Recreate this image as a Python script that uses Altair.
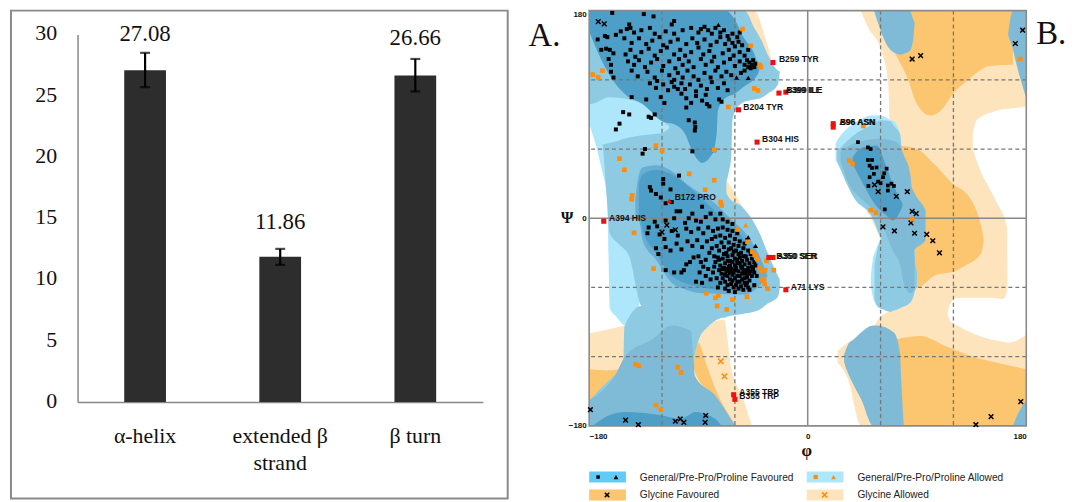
import altair as alt
import pandas as pd

# ---------------- left panel values ----------------
categories = ["α-helix", "extended β strand", "β turn"]
bar_values = [27.08, 11.86, 26.66]
err_low = [25.7, 11.2, 25.35]
err_high = [28.5, 12.5, 28.0]
label_pos = [30.0, 14.7, 29.7]

# ---------------- Ramachandran regions: (phi, psi low, psi high) ----------------
LO_TOP_BAND = [(43.6,180,180),(50,165,180),(60,147,180),(66,120,180),(68,50,180),(70,-180,180),(115,-180,180),(180,-180,180)]
LO_SLIVER_A = [(-60,150,180),(-44,140,180),(-36,130,160),(-30,130,139)]
LO_SLIVER_B = [(-72,10,40),(-65,0,30),(-55,-10,12),(-45,-20,-8),(-38,-30,-15)]
LO_SLIVER_C = [(-95,-140,-90),(-76,-160,-89),(-70,-170,-88),(-69,-180,-88),(-63,-180,-130),(-54,-180,-154),(-46,-180,-180)]
LO_CORNER = [(-180,-135,-100),(-150,-135,-93)]
LO_LOWER = [(24.5,-125,-115),(33,-139,-108),(44,-180,-100),(55,-180,-93),(60,-180,-85),(71,-180,-80)]
LO_UPPER = [(24,50,60),(36,25,50),(52,0,30),(60,-19,10),(71,-60,50)]
WHITE_U = [(136,60,73),(139,50,85),(155,15,93),(164,-7,95),(165,-108,95),(180,-101,97)]
WHITE_L = [(115,-82,-82),(117,-89,-75),(123,-93,-69),(150,-105,-69),(161,-107,-70),(165,-108,-60)]
DO_TOP = [(60,170,180),(71,145,180),(82,122,180),(90,99,180),(101,89,180),(112,96,180),(119,107,180),(131,119,180),(150,132,180),(169,133,180)]
DO_MID = [(75,-60,63),(90,-60,60),(104,-50,47),(123,-45,27),(128,-42,24),(143,-30,-7),(145,-19,-19)]
DO_BOTTOM = [(60,-180,-110),(73,-180,-105),(93,-180,-102),(114,-180,-111),(136,-180,-120),(155,-180,-125),(180,-180,-131)]
DO_LEFT = [(-94,-130,-125),(-90,-140,-108),(-84,-148,-125),(-76,-160,-148),(-60,-180,-178)]
DO_CORNER = [(-180,-160,-131),(-165,-150,-132),(-155,-137,-131)]

CY_BASE = [(-180,82,180),(-170,44,180),(-165,15,180),(-163,-78,180),(-158,-85,180),(-150,-93,180),(-140,-80,180),(-137,-60,180)]
MID_A = [(-180,100,180),(-172,75,180),(-169,64,180),(-166,25,180),(-163,-13,180),(-155,-23,180),(-147,-33,180),(-137,-76,180),(-135,-77,180)]
MID_B = [(-180,-180,-158),(-170,-180,-147),(-158,-180,-135),(-152,-180,-128),(-151,-180,-94),(-137,-180,-76),(-135,-180,-77)]
MID_C = [(-137,-180,180),(-93.5,-180,180)]
MID_D = [(-94.5,-180,-125),(-93,-180,-137),(-76,-180,-154),(-60,-180,-180)]
MID_E = [(-94.5,-125,180),(-88.5,-102,180),(-84,-96,180),(-68,-86,180),(-67,-86,180)]
MID_F = [(-69,27,180),(-65,40,180),(-63,53,180),(-62,85,180),(-61,90,180),(-54,100,180),(-52,101,180),(-44,103,165),(-38,104.5,154),(-33,108,142),(-24.5,116,128),(-23,127,127)]
MID_G = [(-69,-86,27),(-65,-85,18),(-54,-83,10),(-41,-80,-10),(-33,-74,-30),(-24.5,-68,-50),(-23,-60,-53)]
NOTCH = [(-180,84,99),(-175,70,100),(-169,64,103),(-164,65,105),(-147,70,103),(-136,72,99),(-120,74,84),(-114,78,80)]
MIDDARK = [(-180,-180,-158),(-158,-180,-135),(-150,-180,-119),(-128,-180,-105),(-112,-180,-93),(-96,-180,-98),(-94,-180,-125),(-93,-180,-137),(-76,-180,-154),(-60,-180,-180)]
FAV_TOP = [(-180,162,180),(-172,142,180),(-162,122,180),(-150,107,180),(-136,99,180),(-120,84,180),(-109,81,180),(-101,73,180),(-95,58,180),(-87,48,180),(-79,55,180),(-75,73,180),(-74,93,180),(-68,104,180),(-60,108,172),(-54,113,159),(-41,125,133),(-40,128,128)]
FAV_BOTTOM = [(-177,-180,-180),(-164,-180,-171),(-150,-180,-168),(-120,-180,-171),(-105,-180,-174),(-92,-180,-168),(-76,-180,-174),(-71,-180,-180)]
FAV_LOW_OUT = [(-142,0,16),(-139,-2,38),(-136,-19,44),(-125,-36,46),(-112,-56,41),(-100,-62,30),(-87,-65,21),(-84,-65,19),(-60,-66,-4),(-52,-66,-12),(-41,-60,-30),(-33,-50,-50)]
FAV_LOW_IN = [(-139,3,30),(-136,-10,38),(-125,-30,42),(-112,-50,38),(-87,-60,17),(-70,-62,0),(-60,-62,-10),(-52,-60,-20),(-48,-50,-35)]

BL_PATCH = [(54.5,180,180),(68,146,180),(76,142,180),(84,145,180),(87,156,172),(88,170,170)]
BL_TOPRIGHT = [(165,159,159),(169,146,180),(172,133,180),(180,104,180)]
BL_BOTRIGHT = [(169,-180,-180),(172,-180,-172),(180,-180,-158)]
BL_LOWER = [(30,-125,-118),(33,-134,-110),(38,-145,-105),(44,-157,-99),(54,-180,-93),(57,-180,-93),(71,-180,-99),(76,-180,-117),(77,-180,-140),(79,-180,-178)]
BLOB_CY_1 = [(23,50,65),(28,41,73),(38,18,82),(53,1,89),(60,-16,89),(68,-25,85)]
BLOB_CY_2 = [(52,-59,-50),(53,-65,-40),(57,-76,-25),(60,-78,-16),(68,-81,85),(71,-80,84),(76,-78,73),(78,-77,53),(84.5,-73,27),(87,-68,20),(88.6,-62,-39),(90,-60,-45)]
BLOB_CY_3 = [(85,-30,24),(88.6,-26,16),(90,-25,14),(95,-22,6),(97,-19,-5)]
BLOB_MID = [(24,50,58),(38,18,72),(53,1,81),(60,-16,85),(68,-25,84)]
BLOB_MID_LOW = [(55,-70,-40),(58,-77,-25),(62,-79,-12),(68,-81,84),(71,-80,80),(76,-78,73),(78,-77,53),(84.5,-73,27),(87,-68,20),(88.6,-62,-39),(90,-60,-45)]
BLOB_IN_1 = [(27,50,58),(35,27,63),(41,20,66),(60,-2,69),(71,-30,67),(76,-40,63),(79,-56,55),(84.5,-65,38),(88,-62,-37)]
BLOB_IN_2 = [(85,-30,28),(90,-25,18),(95,-21,11),(97,-19,7)]
BLOB_FAV = [(37,47,53),(44,33,61),(57,10,63),(64,3,47),(70,-2,30),(78,10,13)]

C_LO, C_DO = "#fde4bd", "#fcc56f"
C_CY, C_MID, C_MD = "#aee6fb", "#8ecbe3", "#7fbbd6"
C_FAV, C_FAV2 = "#4e9fc8", "#66aed3"
C_WHITE = "#ffffff"

region_layers = [
    (LO_TOP_BAND, C_LO), (LO_SLIVER_A, C_LO), (LO_SLIVER_B, C_LO), (LO_SLIVER_C, C_LO),
    (LO_CORNER, C_LO), (LO_LOWER, C_LO), (LO_UPPER, C_LO),
    (WHITE_U, C_WHITE), (WHITE_L, C_WHITE),
    (DO_TOP, C_DO), (DO_MID, C_DO), (DO_BOTTOM, C_DO), (DO_LEFT, C_DO), (DO_CORNER, C_DO),
    (CY_BASE, C_CY),
    (MID_A, C_MID), (MID_B, C_MID), (MID_C, C_MID), (MID_D, C_MID), (MID_E, C_MID), (MID_F, C_MID), (MID_G, C_MID),
    (NOTCH, C_CY), (MIDDARK, C_MD),
    (FAV_TOP, C_FAV), (FAV_BOTTOM, C_FAV), (FAV_LOW_OUT, C_FAV2), (FAV_LOW_IN, C_FAV),
    (BL_PATCH, C_MD), (BL_TOPRIGHT, C_MD), (BL_BOTRIGHT, C_MD), (BL_LOWER, C_MD),
    (BLOB_CY_1, C_CY), (BLOB_CY_2, C_CY), (BLOB_CY_3, C_MID), (BLOB_MID, C_MID), (BLOB_MID_LOW, C_MID),
    (BLOB_IN_1, C_MD), (BLOB_IN_2, C_MD), (BLOB_FAV, C_FAV),
]

# ---------------- Ramachandran points: (phi, psi) ----------------
BLACK_TOP = [
(-161,178),(-135,177),(-127,175),(-110,171),(-112,168),(-147,168),(-146,165),(-154,162),(-149,164),(-143,161),(-137,163),(-130,165),(-126,160),(-117,162),(-110,160),(-103,163),(-96,165),(-90,161),(-88,164),(-85,166),(-82,163),(-79,160),(-76,165),(-72,161),(-69,163),(-66,158),(-62,160),(-58,157),(-56,161),
(-167,158),(-173,155),(-158,159),(-165,157),(-151,156),(-145,152),(-139,156),(-133,151),(-128,154),(-122,157),(-119,150),(-113,153),(-107,155),(-100,151),(-95,156),(-91,152),(-85,155),(-80,150),(-75,153),(-72,157),(-68,151),(-65,155),(-62,152),(-60,149),(-57,153),(-54,150),
(-166,147),(-170,146),(-163,146),(-160,143),(-150,142),(-146,146),(-142,140),(-137,144),(-131,147),(-126,141),(-121,145),(-116,148),(-110,142),(-105,146),(-101,141),(-96,144),(-90,148),(-86,142),(-81,145),(-77,140),(-70,143),(-65,146),(-61,141),(-56,144),(-52,141),(-49,146),
(-164,138),(-162,133),(-148,136),(-143,133),(-139,137),(-134,131),(-129,135),(-124,138),(-119,132),(-114,136),(-109,130),(-106,138),(-103,133),(-98,136),(-94,131),(-88,138),(-84,133),(-79,136),(-74,131),(-69,135),(-64,138),(-60,132),(-56,136),(-52,133),(-50,137),(-48,135),(-46,133),(-47,130),(-45,137),(-43,134),(-44,131),(-49,131),
(-162,127),(-160,122),(-145,128),(-140,123),(-132,127),(-126,122),(-120,128),(-114,124),(-110,120),(-107,126),(-103,122),(-99,128),(-94,123),(-90,120),(-85,126),(-80,122),(-76,128),(-71,123),(-67,127),(-63,124),(-52,128),(-55,126),
(-130,117),(-125,113),(-124,119),(-119,116),(-115,111),(-112,118),(-110,114),(-107,112),(-104,117),(-101,112),(-97,116),(-92,110),(-88,115),(-83,112),(-79,118),(-74,113),(-69,117),(-66,111),
(-145,105),(-133,103),(-121,105),(-118,100),(-104,108),(-100,104),(-96,100),(-92,106),(-87,102),(-84,107),(-83,99),(-81,97),(-73,103),(-71,101),(-100,96),
(-152,92),(-147,90),(-155,82),(-158,77),(-131,88),(-126,90),(-129,87),(-98,85),(-93,83),(-92.6,79),(-93,76),(-134,60),(-136,56),(-95,58),(-77,59),
]
BLACK_LOW = [
(-130,27),(-129,24),(-119,34),(-119,30),(-113,25),(-106,37),(-125,21),(-121,18),(-117,13),(-112,14),(-108,6),(-105,6),(-95,4),(-98,0),(-87,10),(-80,4),(-72,4),(-92,-2),(-88,-3),(-84,1),(-76,-1),(-70,-1),(-66,-3),(-62,-5),(-101,-4),(-110,0),(-117,-2),(-124,-7),(-126,-3),(-131,-8),
(-132,-13),(-122,-14),(-118,-18),(-112,-11),(-107,-15),(-100,-9),(-96,-12),(-90,-9),(-86,-13),(-82,-8),(-78,-11),(-74,-9),(-70,-8),(-66,-10),(-62,-11),(-58,-13),
(-125,-26),(-123,-31),(-117,-25),(-113,-28),(-108,-22),(-104,-27),(-99,-20),(-95,-24),(-91,-19),(-87,-25),(-83,-20),(-79,-18),(-76,-16),(-72,-15),(-68,-17),(-64,-15),(-60,-18),(-56,-20),(-52,-22),(-50,-19),
(-117,-45),(-110,-47),(-104,-47),(-102,-45),(-100,-40),(-97,-38),(-94,-34),(-90,-33),(-88,-38),(-86,-42),(-84,-36),(-81,-30),(-79,-26),(-77,-33),(-75,-24),(-73,-28),(-71,-21),(-69,-25),(-67,-30),(-65,-21),(-63,-26),(-61,-23),(-59,-28),(-57,-24),(-55,-30),(-53,-26),(-51,-33),(-49,-28),(-47,-31),
(-76,-38),(-74,-34),(-72,-41),(-70,-35),(-68,-39),(-66,-33),(-64,-37),(-62,-32),(-60,-35),(-58,-39),(-56,-34),(-54,-37),(-52,-40),(-50,-36),(-48,-39),(-46,-35),(-44,-38),(-73,-45),(-71,-48),(-69,-43),(-67,-46),(-65,-42),(-63,-44),(-61,-47),(-59,-43),(-57,-46),(-55,-42),(-53,-45),(-51,-48),(-49,-43),(-47,-46),(-45,-44),(-43,-41),
(-70,-52),(-68,-55),(-66,-50),(-64,-53),(-62,-49),(-60,-52),(-58,-55),(-56,-50),(-54,-53),(-52,-56),(-50,-51),(-48,-54),(-46,-50),(-44,-47),(-42,-50),(-63,-57),(-61,-60),(-59,-58),(-57,-61),(-55,-59),(-53,-62),(-51,-58),(-66,-58),(-49,-60),
(-75,-52),(-78,-47),(-80,-53),(-84,-50),(-89,-47),(-92,-55),(-87,-56),(-82,-44),(-77,-42),(-65,-63),(-60,-64),(-48,-62),(-44,-58),(-72,-56),(-68,-61),(-74,-60),
(-62,-38),(-60,-41),(-58,-36),(-56,-39),(-54,-43),(-52,-47),(-50,-45),(-60,-45),(-64,-47),(-66,-44),(-68,-49),(-70,-44),(-62,-54),(-58,-50),(-56,-55),(-54,-48),(-52,-52),(-50,-56),(-48,-48),(-46,-42),(-64,-41),(-66,-37),(-61,-29),(-57,-31),(-53,-33),(-65,-27),(-69,-31),(-73,-36),
]
BLACK_RIGHT = [(41.4,66),(49.6,61.4),(51.8,60),(49.6,50.5),(53,50.5),(51,45.6),(53,43.6),(56.7,44),(65,43),(63,39),(54.5,38.5),(62,35.6),(51,35.6),(58,31.8),(60,30.4),(50,28),(69,30),(71,28),(66,28.4),(66,24),(63.5,7.7)]
BLACK_X = [(55,29),(58,23),(73,19),(82,23),(86,6),(89.4,4),(85,-4),(62,-7.5),(71.4,-11),(88,-13),(98,-14),(103,-19.5),(108.5,-30),(86,138),(93,141),(171,151.5),(177,163),(175.5,-159),(151,-172),(138.5,-179),(-179,-166),(-150,-175),(-139.5,-179),(-109,-176),(-105,-174),(-102,-177),(-84,-171),(-84.5,-177),(-172.5,170.5),(-167.6,168.5),(-116,-6),(-109,-10),(-120,-12)]
BLACK_TRI = [(-73.6,167.6),(-58.6,122),(-49,121.7),(-49,-16.6),(-43,-24)]
ORANGE_SQ = [(-53.7,164),(-47,149.5),(-39.5,133),(-38.6,131),(-44,112.5),(-41,110.8),(-65.4,96.4),(-177,124.6),(-172.5,122),(-169,128),(-125,62.9),(-120,58.5),(-77,59.4),(-155,51.7),(-151,42),(-97.6,38.5),(-77,33),(-84.5,24.7),(-144.5,19.8),(-145,16.4),(-71.7,14),(-71,11),(-57.7,-9.8),(-143,-12.6),(-49.6,-20.4),(-127,-43.6),(-45.7,-29),(-43.6,-32),(-41.6,-35.6),(-34,-37),(-39.5,-43),(-38,-46),(-35,-45),(-28,-45),(-36,-52.8),(-38,-53),(-35.4,-57),(-33,-61),(-83.6,-65),(-73.6,-67),(-76,-69),(-50,-68),(-62,-70.6),(-74.6,-76),(-66.7,-79),(-141.7,-126.5),(-139,-128),(-107,-129),(-104.4,-133.7),(-125,-162),(-121,-166),(175,138),(45.8,80),(34.3,50),(37,47),(52,7),(56,4.6),(86,-0.8)]
ORANGE_X = [(-71.6,-124),(-68.6,-137)]
ORANGE_TRI = [(-51,-6)]
RED_SQ = [(-28.6,135),(-23.7,108.5),(-18,109.3),(-57,94),(-41.7,66),(-168,-2.6),(-32,-34),(-28.6,-34),(-18,-62),(-61,-153),(-60,-157),(21,82),(21,79)]
RED_TRI = [(-114,15)]
RES_LABELS = [("B259 TYR",-23.7,137.8),("A399 ILE",-18.5,111),("B399 ILE",-17.5,111),("B204 TYR",-53,96.4),("B304 HIS",-37.6,69),("A394 HIS",-163.6,0),("B172 PRO",-109.6,18),("B350 SER",-26,-33),("A350 SER",-25,-33),("A71 LYS",-14,-59.4),("A355 TRP",-56.4,-150.7),("B355 TRP",-56.4,-154),("A96 ASN",26,83.5),("B96 ASN",26.5,83)]

legend_labels = ["General/Pre-Pro/Proline Favoured", "General/Pre-Pro/Proline Allowed", "Glycine Favoured", "Glycine Allowed"]
legend_colors = ["#62cbf5", "#aee6fb", "#fcc56f", "#fde4bd"]
grid_values = [-120, -60, 60, 120]
axis_ticks = [-180, 0, 180]

# ---------------- left panel ----------------
SERIF = "Liberation Serif"
df_bar = pd.DataFrame({"cat": categories, "v": bar_values, "lo": err_low, "hi": err_high, "lab": label_pos,
                       "txt": [f"{v:.2f}" for v in bar_values]})
H_LEFT, W_LEFT = 394, 408
xs = alt.X("cat:N", sort=categories, title=None, scale=alt.Scale(paddingInner=0, paddingOuter=0),
           axis=alt.Axis(labelAngle=0, labelFont=SERIF, labelFontSize=22, labelColor="#111", domainColor="#888",
                         domainWidth=1.5, ticks=False, labelPadding=24, labelLineHeight=27,
                         labelExpr="datum.value == 'extended β strand' ? ['extended β','strand'] : datum.label"))
ys = alt.Y("v:Q", title=None, scale=alt.Scale(domain=[0, 30], range=[H_LEFT, 24]),
           axis=alt.Axis(values=[0, 5, 10, 15, 20, 25, 30], labelFont=SERIF, labelFontSize=22, labelColor="#111",
                         domainColor="#888", domainWidth=1.5, ticks=False, grid=False, labelPadding=21, labelOffset=-1.5))
base = alt.Chart(df_bar)
bars = base.mark_bar(size=42, color="#2d2d2d").encode(x=xs, y=ys)
err = base.mark_rule(color="#000", strokeWidth=2.2).encode(x=xs, y=alt.Y("lo:Q"), y2="hi:Q")
cap1 = base.mark_tick(color="#000", size=10, thickness=2.2).encode(x=xs, y=alt.Y("lo:Q"))
cap2 = base.mark_tick(color="#000", size=10, thickness=2.2).encode(x=xs, y=alt.Y("hi:Q"))
txt = base.mark_text(font=SERIF, fontSize=23, color="#111").encode(x=xs, y=alt.Y("lab:Q"), text="txt:N")
frame = alt.Chart(alt.Data(values=[{}])).mark_rect(filled=False, stroke="#8a8a8a", strokeWidth=2).encode(
    x=alt.value(-67), x2=alt.value(433), y=alt.value(0), y2=alt.value(491))
left = alt.layer(bars, err, cap1, cap2, txt, frame).properties(width=W_LEFT, height=H_LEFT, view=alt.ViewConfig(stroke=None))

# ---------------- right panel ----------------
W_R, H_R = 440, 418
SANS = "Liberation Sans"
px = alt.Scale(domain=[-180, 180], nice=False)
py = alt.Scale(domain=[-180, 180], nice=False)
X = alt.X("phi:Q", scale=px, title=None,
          axis=alt.Axis(values=axis_ticks, grid=False, ticks=False, domain=False, labelFont=SANS, labelFontWeight="bold",
                        labelFontSize=8, labelColor="#111", labelPadding=7, format="d", labelOverlap=False))
Y = alt.Y("psi:Q", scale=py, title=None,
          axis=alt.Axis(values=axis_ticks, grid=False, ticks=False, domain=False, labelFont=SANS, labelFontWeight="bold",
                        labelFontSize=8, labelColor="#111", labelPadding=3, format="d", labelOverlap=False,
                        labelBaseline={"condition": {"test": "datum.value == 180", "value": "top"}, "value": "middle"}))

layers = []
for pts, col in region_layers:
    d = pd.DataFrame(pts, columns=["phi", "psi", "psi2"])
    layers.append(alt.Chart(d).mark_area(color=col, interpolate="monotone", opacity=1, clip=True).encode(x=X, y=Y, y2="psi2:Q"))

layers.append(alt.Chart(pd.DataFrame({"phi": grid_values})).mark_rule(color="#777", strokeWidth=1.3, strokeDash=[4, 3]).encode(x=X))
layers.append(alt.Chart(pd.DataFrame({"psi": grid_values})).mark_rule(color="#777", strokeWidth=1.3, strokeDash=[4, 3]).encode(y=Y))
layers.append(alt.Chart(pd.DataFrame({"phi": [0]})).mark_rule(color="#888", strokeWidth=1.5).encode(x=X))
layers.append(alt.Chart(pd.DataFrame({"psi": [0]})).mark_rule(color="#888", strokeWidth=1.5).encode(y=Y))
layers.append(alt.Chart(alt.Data(values=[{}])).mark_rect(filled=False, stroke="#8a8a8a", strokeWidth=1.6).encode(
    x=alt.value(0), x2=alt.value(W_R), y=alt.value(0), y2=alt.value(H_R)))

XMARK = "M-1,-1L1,1M-1,1L1,-1"

def pts_layer(pts, shape, color, size, filled=True, sw=1.5):
    d = pd.DataFrame(pts, columns=["phi", "psi"])
    return alt.Chart(d).mark_point(shape=shape, filled=filled, color=color, size=size, opacity=1,
                                   strokeWidth=(0 if filled else sw)).encode(x=X, y=Y)

layers += [
    pts_layer(BLACK_TOP, "square", "#000", 16),
    pts_layer(BLACK_LOW, "square", "#000", 16),
    pts_layer(BLACK_RIGHT, "square", "#000", 14),
    pts_layer(BLACK_X, XMARK, "#000", 22, filled=False),
    pts_layer(BLACK_TRI, "triangle-up", "#000", 26),
    pts_layer(ORANGE_SQ, "square", "#ff8c0a", 22),
    pts_layer(ORANGE_X, XMARK, "#ff8c0a", 28, filled=False),
    pts_layer(ORANGE_TRI, "triangle-up", "#ff8c0a", 30),
    pts_layer(RED_SQ, "square", "#f01010", 26),
    pts_layer(RED_TRI, "triangle-up", "#f01010", 30),
]
df_lab = pd.DataFrame(RES_LABELS, columns=["t", "phi", "psi"])
layers.append(alt.Chart(df_lab).mark_text(font=SANS, fontWeight="bold", fontSize=8.6, align="left", color="#111").encode(x=X, y=Y, text="t:N"))

# axis symbols and panel letters
def note(t, x, y, font, size, weight="normal", align="left", baseline="alphabetic", color="#111"):
    return alt.Chart(alt.Data(values=[{"t": t}])).mark_text(font=font, fontSize=size, fontWeight=weight, align=align,
            baseline=baseline, color=color).encode(x=alt.value(x), y=alt.value(y), text="t:N")

layers += [
    note("Ψ", -22, 209, SERIF, 16, "bold", "center", "middle"),
    note("φ", 219, 443, SERIF, 17, "bold", "center", "middle"),
    note("A.", -61, 36, SERIF, 33),
    note("B.", 450, 34, SERIF, 33),
]

# legend drawn below the plot
for i, (lab, col) in enumerate(zip(legend_labels, legend_colors)):
    cx = 0 if i % 2 == 0 else 219
    cy = 464 if i < 2 else 482
    layers.append(alt.Chart(alt.Data(values=[{}])).mark_rect(color=col).encode(
        x=alt.value(cx), x2=alt.value(cx + 37), y=alt.value(cy), y2=alt.value(cy + 11)))
    layers.append(note(lab, cx + 51, cy + 9, SANS, 10.2, color="#222"))

def sym(x, y, shape, color, size, filled=True):
    return alt.Chart(alt.Data(values=[{}])).mark_point(shape=shape, filled=filled, color=color, size=size, opacity=1,
            strokeWidth=(0 if filled else 1.5)).encode(x=alt.value(x), y=alt.value(y))

layers += [
    sym(9, 469.5, "square", "#000", 12), sym(27, 469.5, "triangle-up", "#000", 24),
    sym(228, 469.5, "square", "#ff8c0a", 18), sym(246, 469.5, "triangle-up", "#ff8c0a", 24),
    sym(18, 487.5, XMARK, "#000", 20, False), sym(237, 487.5, XMARK, "#ff8c0a", 26, False),
]

right = alt.layer(*layers).properties(width=W_R, height=H_R, view=alt.ViewConfig(stroke=None))

chart = alt.hconcat(left, right, spacing=107, bounds="flush").resolve_scale(x="independent", y="independent").properties(
    padding={"left": 2, "top": 0, "right": 0, "bottom": 0},
    background="#ffffff")
chart.save("out.html", embed_options={"renderer": "svg", "actions": False})
